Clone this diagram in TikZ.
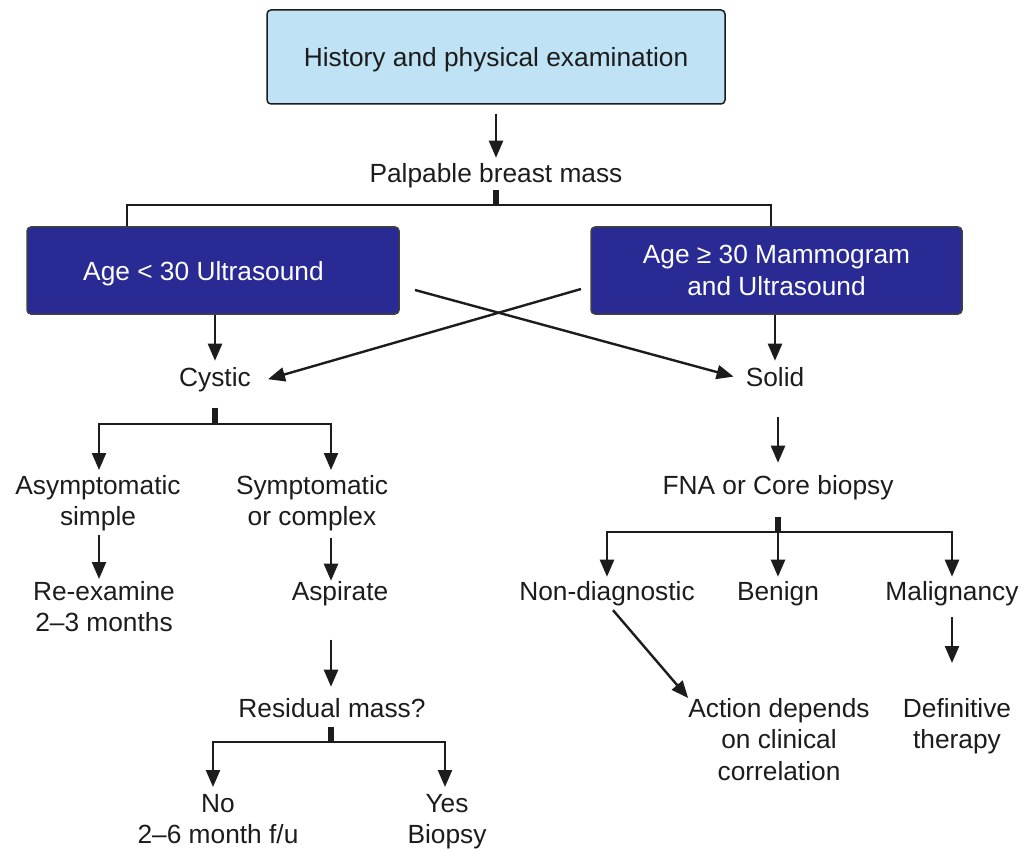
\documentclass[tikz,border=0pt]{standalone}
\usepackage{fontspec}
\setmainfont{Liberation Sans}
\usetikzlibrary{arrows.meta,calc}
\definecolor{lightbox}{RGB}{191,227,244}
\definecolor{darkbox}{RGB}{42,42,148}
\definecolor{ink}{RGB}{28,28,28}
\begin{document}
\begin{tikzpicture}[x=1pt,y=-1pt,
  fnt/.style={font=\fontsize{26.3}{31.5}\selectfont},
  txt/.style={fnt, inner sep=0pt, text=ink},
  mtxt/.style={txt, align=center},
  boxbase/.style={fnt, rounded corners=4pt, line width=1.5pt, inner sep=0pt},
  lightnode/.style={boxbase, draw=ink, fill=lightbox, text=ink},
  darknode/.style={boxbase, draw=black!75, fill=darkbox, text=white},
  conn/.style={line width=2.4pt, draw=ink},
  arr/.style={conn, -{Triangle[length=17pt,width=14pt]}},
  stubline/.style={line width=6.5pt, draw=ink}]
\useasboundingbox (0,0) rectangle (1025,850);

% boxes
\node[lightnode, minimum width=458pt, minimum height=94pt, text height=19pt, text depth=0pt] (top) at (496,57) {History and physical examination};
\node[darknode, minimum width=372pt, minimum height=87pt, text height=19pt, text depth=0pt] (lbox) at (213,270.5) {Age < 30 Ultrasound\hspace*{19pt}};
\node[darknode, align=center, minimum width=371pt, minimum height=87pt] (rbox) at (776.5,270.5) {Age ≥ 30 Mammogram\\and Ultrasound};

% text nodes
\node[txt, anchor=base] (pbm) at (496,183) {Palpable breast mass};
\node[txt, anchor=base] (cystic) at (215,386) {Cystic};
\node[txt, anchor=base] (solid) at (775,386) {Solid};
\node[mtxt, anchor=north] (asym) at (98,475) {Asymptomatic\\simple};
\node[mtxt, anchor=north] (symp) at (312,475) {Symptomatic\\or complex};
\node[mtxt, anchor=north] (reex) at (104,581) {Re-examine\\2–3 months};
\node[txt, anchor=base] (asp) at (340,600) {Aspirate};
\node[txt, anchor=base] (resid) at (332,717) {Residual mass?};
\node[mtxt, anchor=north] (no) at (218,794) {No\\2–6 month f/u};
\node[mtxt, anchor=north] (yes) at (447,794) {Yes\\Biopsy};
\node[txt, anchor=base] (fna) at (778,494) {FNA or Core biopsy};
\node[txt, anchor=base] (nondiag) at (607,600) {Non-diagnostic};
\node[txt, anchor=base] (benign) at (778,600) {Benign};
\node[txt, anchor=base] (malig) at (952,600) {Malignancy};
\node[mtxt, anchor=north] (action) at (779,698) {Action depends\\on clinical\\correlation};
\node[mtxt, anchor=north] (defin) at (957,698) {Definitive\\therapy};

% junction coordinates
\coordinate (j1) at (496,205);
\coordinate (jl) at (127,205);
\coordinate (jr) at (771,205);
\coordinate (x1) at (415,290);
\coordinate (x2) at (581,289);
\coordinate (jc) at (215,424);
\coordinate (jcl) at (99,424);
\coordinate (jcr) at (331,424);
\coordinate (jq) at (331,742);
\coordinate (jql) at (213,742);
\coordinate (jqr) at (445,742);
\coordinate (jf) at (778,532);
\coordinate (jfl) at (607,532);
\coordinate (jfr) at (952,532);

% connectors
\draw[arr, shorten <=9pt, shorten >=6pt] (top.south) -- (pbm.north);
\draw[stubline, shorten <=1.5pt] (pbm.south) -- (j1);
\draw[conn] (lbox.north -| jl) -- (jl) -- (jr) -- (rbox.north -| jr);

\draw[arr, shorten >=6pt] (lbox.south -| cystic.north) -- (cystic.north);
\draw[arr, shorten >=6pt] (rbox.south -| solid.north) -- (solid.north);
\draw[arr] (x1) -- ([xshift=-12pt]solid.west);
\draw[arr] (x2) -- ([xshift=17pt]cystic.east);

\draw[stubline, shorten <=16pt] (cystic.south) -- (jc);
\draw[arr, shorten >=5pt] (jc) -- (jcl) -- (jcl |- asym.north);
\draw[arr, shorten >=5pt] (jc) -- (jcr) -- (jcr |- symp.north);
\draw[arr, shorten <=4pt, shorten >=2pt] (asym.south -| jcl) -- (reex.north -| jcl);
\draw[arr, shorten <=7pt] (symp.south -| jcr) -- (asp.north -| jcr);
\draw[arr, shorten <=34pt, shorten >=11pt] (asp.south -| jcr) -- (resid.north -| jcr);
\draw[stubline, shorten <=10pt] (resid.south -| jq) -- (jq);
\draw[arr, shorten >=7pt] (jq) -- (jql) -- (jql |- no.north);
\draw[arr, shorten >=7pt] (jq) -- (jqr) -- (jqr |- yes.north);

\draw[arr, shorten <=31pt, shorten >=12pt] (solid.south -| fna.north) -- (fna.north);
\draw[stubline, shorten <=17pt] (fna.south) -- (jf);
\draw[arr, shorten >=4pt] (jf) -- (jfl) -- (jfl |- nondiag.north);
\draw[arr, shorten >=4pt] (jf) -- (jfr) -- (jfr |- malig.north);
\draw[arr, shorten >=4pt] (jf) -- (benign.north);
\draw[arr] ([xshift=6pt,yshift=-4.5pt]nondiag.south) -- (action.north west);
\draw[arr, shorten <=11.5pt, shorten >=35pt] (malig.south -| jfr) -- (defin.north -| jfr);
\end{tikzpicture}
\end{document}
